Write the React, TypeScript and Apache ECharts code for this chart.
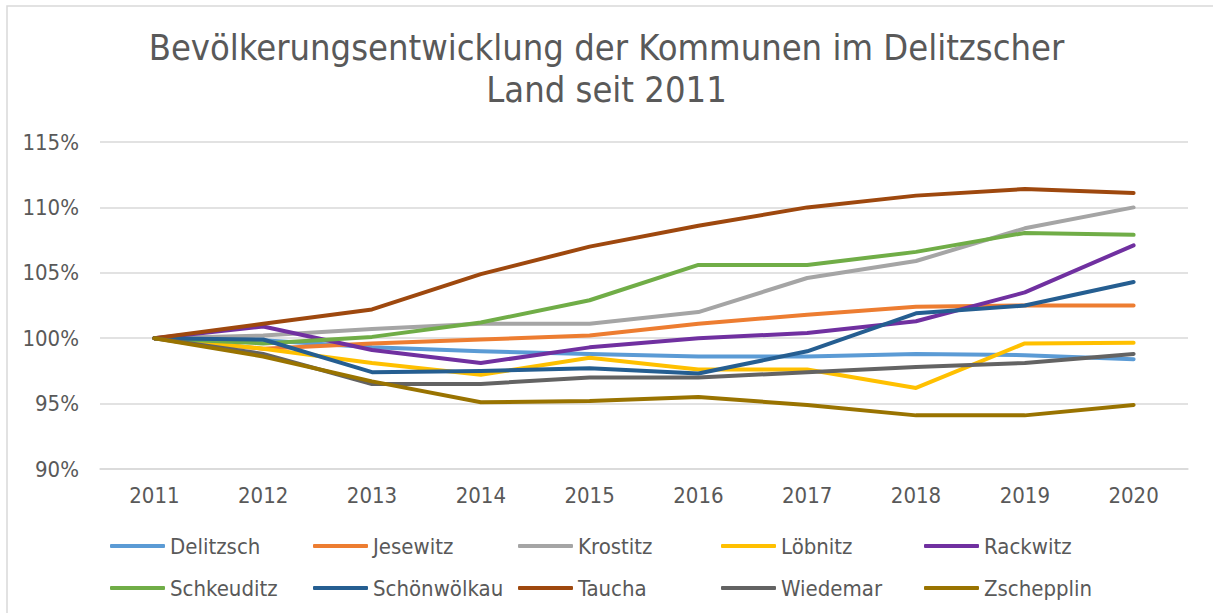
import React, { useEffect, useRef } from "react";
import * as echarts from "echarts";

const years = ["2011", "2012", "2013", "2014", "2015", "2016", "2017", "2018", "2019", "2020"];

const names = [
  "Delitzsch", "Jesewitz", "Krostitz", "Löbnitz", "Rackwitz",
  "Schkeuditz", "Schönwölkau", "Taucha", "Wiedemar", "Zschepplin",
];

const colors = [
  "#5B9BD5", "#ED7D31", "#A5A5A5", "#FFC000", "#7030A0",
  "#70AD47", "#255E91", "#9E480E", "#636363", "#997300",
];

const delitzsch = [100, 99.85, 99.3, 99.0, 98.8, 98.6, 98.6, 98.8, 98.7, 98.4];
const jesewitz = [100, 99.2, 99.6, 99.9, 100.2, 101.1, 101.8, 102.4, 102.5, 102.5];
const krostitz = [100, 100.2, 100.7, 101.1, 101.1, 102.0, 104.6, 105.9, 108.4, 110.0];
const loebnitz = [100, 99.2, 98.1, 97.2, 98.5, 97.6, 97.6, 96.2, 99.6, 99.65];
const rackwitz = [100, 100.9, 99.1, 98.1, 99.3, 100.0, 100.4, 101.3, 103.5, 107.1];
const schkeuditz = [100, 99.6, 100.1, 101.2, 102.9, 105.6, 105.6, 106.6, 108.05, 107.9];
const schoenwoelkau = [100, 99.9, 97.4, 97.5, 97.7, 97.3, 99.0, 101.9, 102.5, 104.3];
const taucha = [100, 101.1, 102.2, 104.9, 107.0, 108.6, 110.0, 110.9, 111.4, 111.1];
const wiedemar = [100, 98.8, 96.5, 96.5, 97.0, 97.0, 97.4, 97.8, 98.1, 98.8];
const zschepplin = [100, 98.6, 96.7, 95.1, 95.2, 95.5, 94.9, 94.1, 94.1, 94.9];

const seriesData = [
  delitzsch, jesewitz, krostitz, loebnitz, rackwitz,
  schkeuditz, schoenwoelkau, taucha, wiedemar, zschepplin,
];

const yTicks = { min: 90, max: 115, interval: 5 };

const FONT = "'DejaVu Sans Condensed', 'Liberation Sans Narrow', 'Roboto', sans-serif";
const TEXT = "#595959";

export default function App() {
  const ref = useRef<HTMLDivElement>(null);
  useEffect(() => {
    if (!ref.current) return;
    const chart = echarts.init(ref.current, undefined, { renderer: "svg" });
    const legendCols = [110, 313, 518, 721, 924];
    const legendRows = [535, 577];
    const legends = names.map((n, i) => ({
      data: [n],
      left: legendCols[i % 5],
      top: legendRows[Math.floor(i / 5)],
      padding: 0,
      icon: "roundRect",
      itemWidth: 55,
      itemHeight: 4,
      itemGap: 0,
      textStyle: { color: TEXT, fontSize: 22, fontFamily: FONT, padding: [0, 0, 0, 0] },
    }));
    chart.setOption({
      animation: false,
      backgroundColor: "#ffffff",
      color: colors,
      textStyle: { fontFamily: FONT },
      title: {
        text: "Bevölkerungsentwicklung der Kommunen im Delitzscher\nLand seit 2011",
        left: "center",
        top: 21,
        textStyle: { color: TEXT, fontSize: 36, fontWeight: "normal", lineHeight: 42, fontFamily: FONT },
      },
      graphic: [
        {
          type: "rect",
          shape: { x: 7, y: 6, width: 1220, height: 620 },
          style: { fill: "none", stroke: "#D9D9D9", lineWidth: 1.5 },
          silent: true,
        },
      ],
      legend: legends,
      grid: { left: 100, right: 25, top: 142, bottom: 144, containLabel: false },
      xAxis: {
        type: "category",
        data: years,
        boundaryGap: true,
        axisLine: { show: true, lineStyle: { color: "#D9D9D9", width: 1.5 } },
        axisTick: { show: false },
        axisLabel: { color: TEXT, fontSize: 22, fontFamily: FONT, margin: 15 },
      },
      yAxis: {
        type: "value",
        min: yTicks.min,
        max: yTicks.max,
        interval: yTicks.interval,
        axisLine: { show: false },
        axisTick: { show: false },
        splitLine: { lineStyle: { color: "#D9D9D9", width: 1.5 } },
        axisLabel: { color: TEXT, fontSize: 22, fontFamily: FONT, margin: 21, formatter: "{value}%" },
      },
      series: names.map((n, i) => ({
        name: n,
        type: "line",
        data: seriesData[i],
        symbol: "none",
        lineStyle: { width: 4, color: colors[i], cap: "round", join: "round" },
        itemStyle: { color: colors[i] },
      })),
    });
    return () => chart.dispose();
  }, []);
  return (
    <div
      ref={ref}
      style={{ position: "fixed", left: 0, top: 0, width: 1213, height: 613 }}
    />
  );
}
